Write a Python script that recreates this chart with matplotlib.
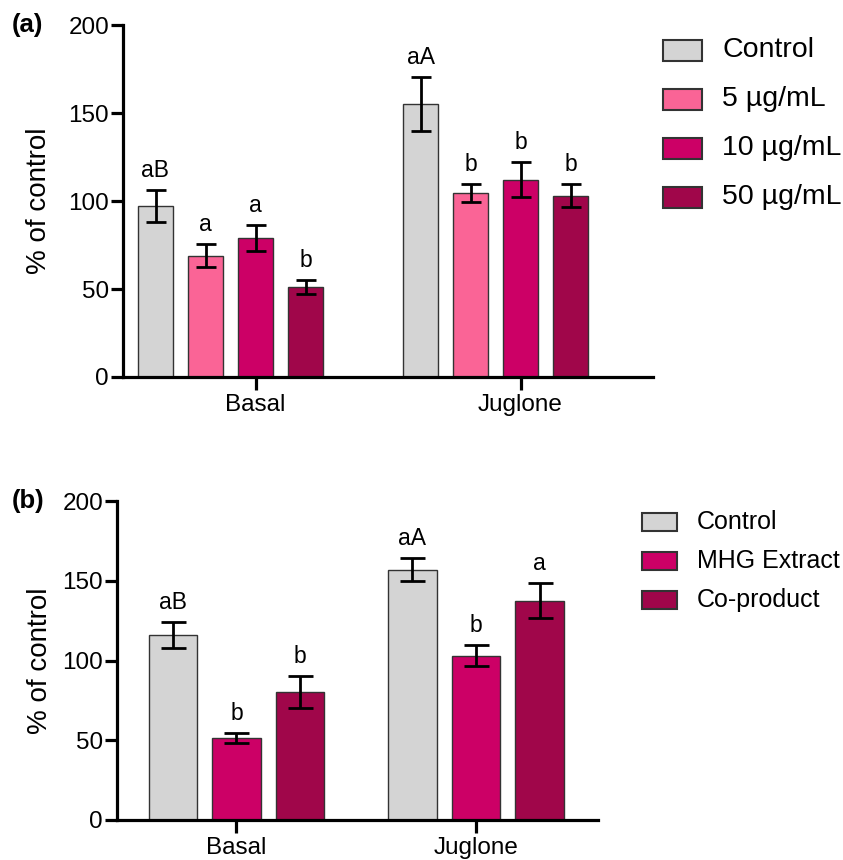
import matplotlib
matplotlib.use('Agg')
import matplotlib.pyplot as plt
import numpy as np

plt.rcParams['font.family'] = ['Liberation Sans', 'DejaVu Sans']

groups = ['Basal', 'Juglone']

# panel (a)
series_a = ['Control', '5 µg/mL', '10 µg/mL', '50 µg/mL']
means_a = [[97, 69, 79, 51], [155, 104.5, 112, 103]]
errs_a = [[9, 6.5, 7.5, 4], [15.5, 5, 10, 6.5]]
letters_a = [['aB', 'a', 'a', 'b'], ['aA', 'b', 'b', 'b']]
colors_a = ['#d4d4d4', '#fa6496', '#cc0066', '#a0064a']

# panel (b)
series_b = ['Control', 'MHG Extract', 'Co-product']
means_b = [[116, 51.5, 80], [157, 103, 137.5]]
errs_b = [[8, 3, 10], [7, 6.5, 11]]
letters_b = [['aB', 'b', 'b'], ['aA', 'b', 'a']]
colors_b = ['#d4d4d4', '#cc0066', '#a0064a']

fig = plt.figure(figsize=(8.43, 8.6), dpi=100)
W, H = 843, 860


def panel(rect, series, means, errs, letters, colors, gap, width, xlim,
          tick_idx, label, ylab_x, cap, leg_x, leg_y, leg_dy, leg_fs,
          patch_w, patch_h):
    l, t, r, b = rect
    ax = fig.add_axes([l / W, 1 - b / H, (r - l) / W, (b - t) / H])
    n = len(series)
    for g in range(len(groups)):
        for i in range(n):
            x = g * gap + i
            ax.bar(x, means[g][i], width=width, color=colors[i],
                   edgecolor='#333333', linewidth=1.0, zorder=2)
            ax.errorbar(x, means[g][i], yerr=errs[g][i], color='black',
                        elinewidth=2, capsize=cap, capthick=2, zorder=3)
            ax.annotate(letters[g][i], (x, means[g][i] + errs[g][i]),
                        xytext=(0, 13), textcoords='offset pixels',
                        ha='center', va='baseline', fontsize=16.5)
    ax.set_xlim(xlim)
    ax.set_ylim(0, 200)
    ax.set_yticks([0, 50, 100, 150, 200])
    ax.set_xticks([g * gap + tick_idx for g in range(len(groups))])
    ax.set_xticklabels(groups)
    for s in ['top', 'right']:
        ax.spines[s].set_visible(False)
    for s in ['left', 'bottom']:
        ax.spines[s].set_linewidth(2.3)
    ax.tick_params(axis='both', width=2.3, length=9, labelsize=17.5, pad=1)
    ax.tick_params(axis='x', pad=3)
    ax.set_ylabel('% of control', fontsize=20)
    ax.yaxis.set_label_coords((ylab_x - l) / (r - l), 0.5)
    fig.text(12 / W, 1 - t / H, label, fontsize=18.5, fontweight='bold',
             va='center', ha='left')
    # legend drawn by hand in figure pixels
    for i in range(n):
        y = leg_y + i * leg_dy
        fig.patches.append(plt.Rectangle(
            ((leg_x) / W, 1 - (y + patch_h / 2) / H), patch_w / W, patch_h / H,
            facecolor=colors[i], edgecolor='#333333', linewidth=1.5,
            transform=fig.transFigure, figure=fig))
        fig.text((leg_x + patch_w + 20) / W, 1 - y / H, series[i],
                 fontsize=leg_fs, va='center', ha='left')
    return ax


panel((123, 25, 653, 377), series_a, means_a, errs_a, letters_a, colors_a,
      gap=5.3, width=0.7, xlim=(-0.65, 9.95), tick_idx=2, label='(a)',
      ylab_x=52, cap=7, leg_x=663, leg_y=50, leg_dy=49, leg_fs=20.5,
      patch_w=39, patch_h=21)

panel((117, 501, 598, 820), series_b, means_b, errs_b, letters_b, colors_b,
      gap=3.77, width=0.76, xlim=(-0.88, 6.69), tick_idx=1, label='(b)',
      ylab_x=53, cap=9, leg_x=642, leg_y=522, leg_dy=39, leg_fs=18,
      patch_w=35, patch_h=18)

fig.savefig('out.png', dpi=100)
